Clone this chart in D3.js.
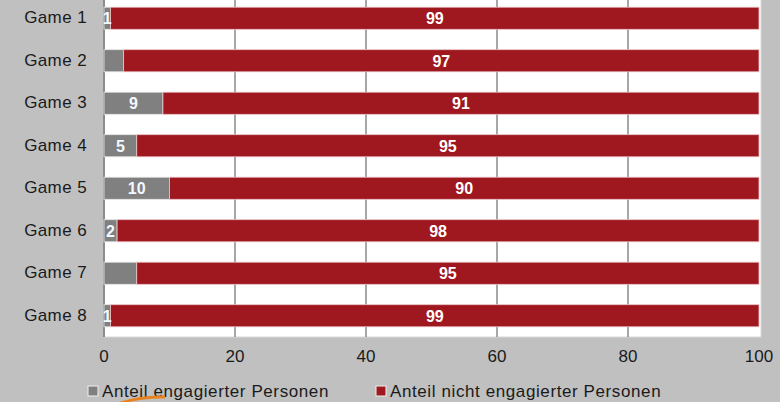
<!DOCTYPE html>
<html>
<head>
<meta charset="utf-8">
<script src="https://cdn.jsdelivr.net/npm/d3@7"></script>
<style>
  body { margin: 0; background: #c0c0c0; }
  svg { display: block; font-family: Arial, "Liberation Sans", sans-serif; }
</style>
</head>
<body>
<script>
// Data
var games = ["Game 1", "Game 2", "Game 3", "Game 4", "Game 5", "Game 6", "Game 7", "Game 8"];
var engaged = [1, 3, 9, 5, 10, 2, 5, 1];
var notEngaged = [99, 97, 91, 95, 90, 98, 95, 99];
// labels as printed in the bars (two are missing in the original)
var engagedLabels = ["1", "", "9", "5", "10", "2", "", "1"];
var notEngagedLabels = ["99", "97", "91", "95", "90", "98", "95", "99"];
var xTicks = [0, 20, 40, 60, 80, 100];
var seriesNames = ["Anteil engagierter Personen", "Anteil nicht engagierter Personen"];
var seriesColors = ["#808080", "#a0181f"];

var w = 780, h = 402;

var svg = d3.select("body")
	.append("svg")
	.attr("width", w)
	.attr("height", h);

//Scales
var x = d3.scaleLinear()
	.domain([0, 100])
	.range([104, 759]);

var y = d3.scaleBand()
	.domain(games)
	.range([-3, 337])
	.paddingInner(0.48)
	.paddingOuter(0.24);

//Plot area
svg.append("rect")
	.attr("x", x(0))
	.attr("y", -5)
	.attr("width", 761 - x(0))
	.attr("height", 342)
	.style("fill", "#ffffff")
	.style("stroke", "#d8d8d8");

//Gridlines
svg.append("g")
	.selectAll("line")
	.data(xTicks.slice(1, 5))
	.enter()
	.append("line")
	.attr("x1", function(d){ return x(d); })
	.attr("x2", function(d){ return x(d); })
	.attr("y1", -5)
	.attr("y2", 337)
	.style("stroke", "#8a8a8a")
	.style("stroke-width", 1.5);

//Left axis line
svg.append("line")
	.attr("x1", x(0)).attr("x2", x(0))
	.attr("y1", -5).attr("y2", 337)
	.style("stroke", "#8c8c8c")
	.style("stroke-width", 2);

//Stacked bars
var rows = games.map(function(g, i){
	return { game: g, a: engaged[i], b: notEngaged[i], la: engagedLabels[i], lb: notEngagedLabels[i] };
});

var bars = svg.append("g");

bars.selectAll("rect.a")
	.data(rows)
	.enter()
	.append("rect")
	.attr("class", "a")
	.attr("x", x(0))
	.attr("y", function(d){ return y(d.game); })
	.attr("width", function(d){ return x(d.a) - x(0); })
	.attr("height", y.bandwidth())
	.style("fill", seriesColors[0])
	.style("stroke", "#e6e6e6")
	.style("stroke-width", 0.8);

bars.selectAll("rect.b")
	.data(rows)
	.enter()
	.append("rect")
	.attr("class", "b")
	.attr("x", function(d){ return x(d.a); })
	.attr("y", function(d){ return y(d.game); })
	.attr("width", function(d){ return x(d.a + d.b) - x(d.a); })
	.attr("height", y.bandwidth())
	.style("fill", seriesColors[1])
	.style("stroke", "#e8c4c6")
	.style("stroke-width", 0.8);

//Bar labels
bars.selectAll("text.la")
	.data(rows)
	.enter()
	.append("text")
	.attr("class", "la")
	.attr("x", function(d){ return x(d.a / 2); })
	.attr("y", function(d){ return y(d.game) + y.bandwidth() / 2; })
	.attr("dy", "0.36em")
	.attr("text-anchor", "middle")
	.style("fill", "#f4f8ff")
	.style("font-size", "16px")
	.style("font-weight", "bold")
	.text(function(d){ return d.la; });

bars.selectAll("text.lb")
	.data(rows)
	.enter()
	.append("text")
	.attr("class", "lb")
	.attr("x", function(d){ return x(d.a + d.b / 2); })
	.attr("y", function(d){ return y(d.game) + y.bandwidth() / 2; })
	.attr("dy", "0.36em")
	.attr("text-anchor", "middle")
	.style("fill", "#ffffff")
	.style("font-size", "16px")
	.style("font-weight", "bold")
	.text(function(d){ return d.lb; });

//Category labels
svg.append("g")
	.selectAll("text")
	.data(games)
	.enter()
	.append("text")
	.attr("x", 87)
	.attr("y", function(d){ return y(d) + y.bandwidth() / 2 - 1; })
	.attr("dy", "0.36em")
	.attr("text-anchor", "end")
	.style("fill", "#1a1a1a")
	.style("font-size", "17px")
	.style("letter-spacing", "0.4px")
	.text(function(d){ return d; });

//X tick labels
svg.append("g")
	.selectAll("text")
	.data(xTicks)
	.enter()
	.append("text")
	.attr("x", function(d){ return x(d); })
	.attr("y", 362)
	.attr("text-anchor", "middle")
	.style("fill", "#1a1a1a")
	.style("font-size", "17px")
	.text(function(d){ return d; });

//Legend
var legend = svg.append("g");
var legendX = [88, 376];

legend.selectAll("rect")
	.data(seriesNames)
	.enter()
	.append("rect")
	.attr("x", function(d, i){ return legendX[i]; })
	.attr("y", 386)
	.attr("width", 10)
	.attr("height", 10)
	.style("fill", function(d, i){ return seriesColors[i]; })
	.style("stroke", "#f0f0f0")
	.style("stroke-width", 1);

legend.selectAll("text")
	.data(seriesNames)
	.enter()
	.append("text")
	.attr("x", function(d, i){ return legendX[i] + 14; })
	.attr("y", 397)
	.style("fill", "#1a1a1a")
	.style("font-size", "17px")
	.style("letter-spacing", "0.6px")
	.text(function(d){ return d; });

//Orange stroke at the bottom edge
svg.append("path")
	.attr("d", "M118,404 Q140,396 165,397")
	.style("fill", "none")
	.style("stroke", "#e8821e")
	.style("stroke-width", 3);
</script>
</body>
</html>
